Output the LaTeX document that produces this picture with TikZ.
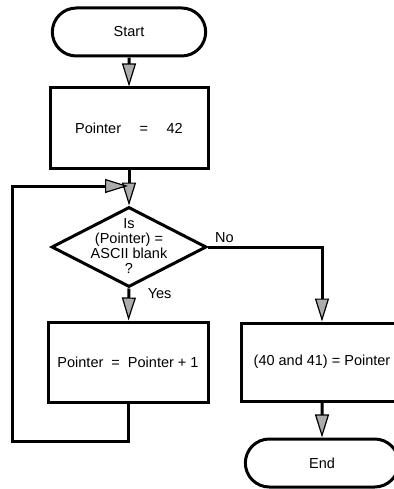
\documentclass[tikz,border=0pt]{standalone}
\usepackage{fontspec}
\setmainfont{Liberation Sans}
\usetikzlibrary{arrows.meta,shapes.geometric,shapes.misc}
\tikzset{
  term/.style={draw,rounded rectangle,line width=3pt,minimum width=160pt,minimum height=48pt},
  proc/.style={draw,rectangle,line width=3pt,minimum width=158pt,minimum height=80pt},
  test/.style={draw,diamond,line width=3pt,minimum width=155pt,minimum height=80pt,inner sep=0pt},
  flow/.style={line width=3pt,-{Triangle[length=23pt,width=14pt,fill=gray!65,line width=1.2pt]}},
}
\begin{document}
\begin{tikzpicture}[x=1pt,y=-1pt,font=\fontsize{14.5}{15}\selectfont]
  \useasboundingbox (0,0) rectangle (393,489);
  \node[term] (start) at (129,32) {Start};
  \node[proc] (init) at (129,128) {Pointer \quad = \quad 42};
  \node[test] (blank) at (129,247) {};
  \node[align=center] (blanktext) at (129,246) {Is\\(Pointer) =\\ASCII blank\\?};
  \node[proc,minimum width=160pt] (inc) at (128,362) {Pointer \ = \ Pointer + 1};
  \node[proc,minimum width=162pt,minimum height=78pt] (save) at (322,362) {(40 and 41) = Pointer};
  \node[term] (end) at (322,463) {End};
  \coordinate (turn) at (322,247);
  \coordinate (down) at (128,441);
  \coordinate (left) at (12,441);
  \coordinate (up) at (12,186);
  \coordinate (merge) at (128,186);
  \draw[flow] (start) -- (init);
  \draw[flow] (init) -- (blank);
  \draw[flow] (blank.south) -- node[pos=0.17,right=14pt] (yes) {Yes} (inc);
  \draw[flow] (blank.east) -- node[pos=0.02,above right] (no) {No} (turn) -- (save);
  \draw[flow] (save) -- (end);
  \draw[flow] (inc.south) -- (down) -- (left) -- (up) -- (merge);
\end{tikzpicture}
\end{document}
